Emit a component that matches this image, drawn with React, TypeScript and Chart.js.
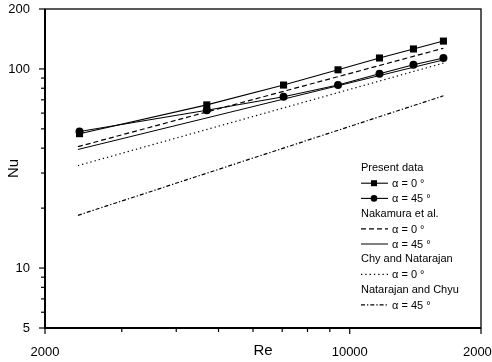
import { useEffect, useRef } from 'react';
import { Chart, registerables } from 'chart.js';

Chart.register(...registerables);

// ---- data (log–log plot) ----
const reData = [2400, 4700, 7050, 9400, 11700, 14000, 16400];
const nuPresent0 = [47.3, 66, 83, 99, 113.5, 126, 138];
const nuPresent45 = [48.5, 62, 72.5, 83, 94.5, 105, 113.5];

const reCorrelation = [2380, 16400];
const nuNakamura0 = [40.7, 127];
const nuNakamura45 = [39.4, 111];
const nuChy0 = [32.7, 107];
const nuNatarajan45 = [18.4, 73.3];

const xTicks = [2000, 3000, 4000, 5000, 6000, 7000, 8000, 9000, 10000, 20000];
const xTickLabels = [2000, 10000, 20000];
const yTicks = [5, 6, 7, 8, 9, 10, 20, 30, 40, 50, 60, 70, 80, 90, 100, 200];
const yTickLabels = [5, 10, 100, 200];

const legendRows = [
  { header: 'Present data' },
  { label: 'α = 0 °', ds: 0 },
  { label: 'α = 45 °', ds: 1 },
  { header: 'Nakamura et al.' },
  { label: 'α = 0 °', ds: 2 },
  { label: 'α = 45 °', ds: 3 },
  { header: 'Chy and Natarajan' },
  { label: 'α = 0 °', ds: 4 },
  { header: 'Natarajan and Chyu' },
  { label: 'α = 45 °', ds: 5 },
];

const FONT = '"Liberation Sans", Arial, sans-serif';

const pts = (xs: number[], ys: number[]) => xs.map((x, i) => ({ x, y: ys[i] }));

const framePlugin = {
  id: 'frameTicksLegend',
  afterDraw(chart: any) {
    const { ctx, chartArea: a, scales } = chart;
    ctx.save();
    ctx.strokeStyle = '#000';
    // frame
    ctx.lineWidth = 1.3;
    ctx.strokeRect(a.left, a.top, a.right - a.left, a.bottom - a.top);
    ctx.lineWidth = 2;
    ctx.beginPath();
    ctx.moveTo(a.left, a.top);
    ctx.lineTo(a.left, a.bottom);
    ctx.lineTo(a.right, a.bottom);
    ctx.stroke();
    // ticks
    ctx.lineWidth = 1.2;
    const xs = scales.x;
    xs.ticks.forEach((t: any) => {
      const px = xs.getPixelForValue(t.value);
      const len = xTickLabels.includes(t.value) ? 6 : 4;
      ctx.beginPath();
      ctx.moveTo(px, a.bottom);
      ctx.lineTo(px, a.bottom + len);
      ctx.stroke();
    });
    const ys = scales.y;
    ys.ticks.forEach((t: any) => {
      const py = ys.getPixelForValue(t.value);
      const len = yTickLabels.includes(t.value) ? 6 : 4;
      ctx.beginPath();
      ctx.moveTo(a.left, py);
      ctx.lineTo(a.left - len, py);
      ctx.stroke();
    });

    // legend
    const x0 = 361;
    const y0 = 168;
    const dy = 15.2;
    ctx.font = `11px ${FONT}`;
    ctx.fillStyle = '#000';
    ctx.textBaseline = 'middle';
    ctx.textAlign = 'left';
    legendRows.forEach((row: any, i: number) => {
      const y = y0 + i * dy;
      if (row.header) {
        ctx.fillText(row.header, x0, y);
        return;
      }
      const ds = chart.data.datasets[row.ds];
      ctx.save();
      ctx.lineWidth = ds.borderWidth;
      ctx.setLineDash(ds.borderDash || []);
      ctx.beginPath();
      ctx.moveTo(x0, y);
      ctx.lineTo(x0 + 27, y);
      ctx.stroke();
      ctx.setLineDash([]);
      if (ds.pointRadius > 0) {
        const cx = x0 + 13;
        if (ds.pointStyle === 'rect') {
          ctx.fillRect(cx - 3, y - 3, 6, 6);
        } else {
          ctx.beginPath();
          ctx.arc(cx, y, 3.3, 0, Math.PI * 2);
          ctx.fill();
        }
      }
      ctx.restore();
      ctx.fillText(row.label, x0 + 31, y + 1);
    });
    ctx.restore();
  },
};

const bgPlugin = {
  id: 'whiteBg',
  beforeDraw(chart: any) {
    const { ctx, width, height } = chart;
    ctx.save();
    ctx.fillStyle = '#fff';
    ctx.fillRect(0, 0, width, height);
    ctx.restore();
  },
};

export default function App() {
  const ref = useRef<HTMLCanvasElement>(null);

  useEffect(() => {
    document.body.style.margin = '0';
    const canvas = ref.current!;
    const chart = new Chart(canvas, {
      type: 'line',
      data: {
        datasets: [
          {
            label: 'Present data α = 0 °',
            data: pts(reData, nuPresent0),
            borderColor: '#000',
            backgroundColor: '#000',
            borderWidth: 1.1,
            pointStyle: 'rect',
            pointRadius: 5,
            pointBorderWidth: 0,
          },
          {
            label: 'Present data α = 45 °',
            data: pts(reData, nuPresent45),
            borderColor: '#000',
            backgroundColor: '#000',
            borderWidth: 1.1,
            pointStyle: 'circle',
            pointRadius: 4,
            pointBorderWidth: 0,
          },
          {
            label: 'Nakamura et al. α = 0 °',
            data: pts(reCorrelation, nuNakamura0),
            borderColor: '#000',
            borderWidth: 1.2,
            borderDash: [5, 3],
            pointRadius: 0,
          },
          {
            label: 'Nakamura et al. α = 45 °',
            data: pts(reCorrelation, nuNakamura45),
            borderColor: '#000',
            borderWidth: 1,
            pointRadius: 0,
          },
          {
            label: 'Chy and Natarajan α = 0 °',
            data: pts(reCorrelation, nuChy0),
            borderColor: '#000',
            borderWidth: 1.2,
            borderDash: [1.3, 3],
            pointRadius: 0,
          },
          {
            label: 'Natarajan and Chyu α = 45 °',
            data: pts(reCorrelation, nuNatarajan45),
            borderColor: '#000',
            borderWidth: 1.2,
            borderDash: [4, 2, 1.3, 2],
            pointRadius: 0,
          },
        ],
      },
      options: {
        responsive: false,
        animation: false,
        events: [],
        layout: { padding: { top: 9, right: 11, left: 0, bottom: 0 } },
        plugins: { legend: { display: false }, tooltip: { enabled: false } },
        scales: {
          x: {
            type: 'logarithmic',
            min: 2000,
            max: 20000,
            grid: { display: false },
            border: { display: false },
            afterBuildTicks: (s: any) => {
              s.ticks = xTicks.map((v) => ({ value: v }));
            },
            afterFit: (s: any) => {
              s.height = 34;
              s.paddingLeft = 0;
              s.paddingRight = 0;
            },
            ticks: {
              autoSkip: false,
              maxRotation: 0,
              padding: 9,
              color: '#000',
              font: { family: FONT, size: 13 },
              callback: (v: any) => (xTickLabels.includes(Number(v)) ? String(v) : ''),
            },
            title: {
              display: true,
              text: 'Re',
              color: '#000',
              font: { family: FONT, size: 15 },
              padding: { top: 0, bottom: 2 },
            },
          },
          y: {
            type: 'logarithmic',
            min: 5,
            max: 200,
            grid: { display: false },
            border: { display: false },
            afterBuildTicks: (s: any) => {
              s.ticks = yTicks.map((v) => ({ value: v }));
            },
            afterFit: (s: any) => {
              s.width = 45;
              s.paddingTop = 0;
              s.paddingBottom = 0;
            },
            ticks: {
              autoSkip: false,
              padding: 7,
              color: '#000',
              font: { family: FONT, size: 13 },
              callback: (v: any) => (yTickLabels.includes(Number(v)) ? String(v) : ''),
            },
            title: {
              display: true,
              text: 'Nu',
              color: '#000',
              font: { family: FONT, size: 15 },
              padding: { top: 5, bottom: 0 },
            },
          },
        },
      },
      plugins: [bgPlugin, framePlugin],
    } as any);
    return () => chart.destroy();
  }, []);

  return (
    <div style={{ width: 492, height: 362 }}>
      <canvas ref={ref} width={492} height={362} style={{ display: 'block' }} />
    </div>
  );
}
